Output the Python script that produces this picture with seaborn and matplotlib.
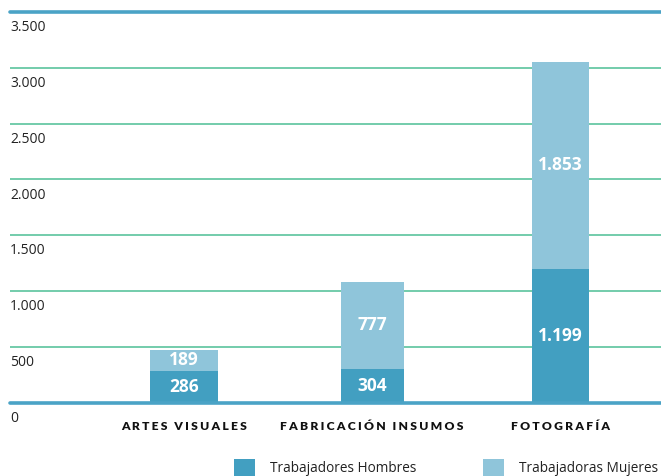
import matplotlib
matplotlib.use("Agg")
import matplotlib.pyplot as plt
import seaborn as sns
import pandas as pd
from matplotlib.patches import Patch

categorias = ["ARTES VISUALES", "FABRICACIÓN INSUMOS", "FOTOGRAFÍA"]
hombres = [286, 304, 1199]
mujeres = [189, 777, 1853]
etiquetas_h = ["286", "304", "1.199"]
etiquetas_m = ["189", "777", "1.853"]
yticks = [0, 500, 1000, 1500, 2000, 2500, 3000, 3500]
ytick_labels = ["0", "500", "1.000", "1.500", "2.000", "2.500", "3.000", "3.500"]
series = ["Trabajadores Hombres", "Trabajadoras Mujeres"]

c_h = "#429FC1"
c_m = "#8FC5DA"
grid_c = "#4DBF94"
line_c = "#4AA3C6"

sns.set_theme(style="white")
plt.rcParams["font.family"] = ["Open Sans", "DejaVu Sans"]

df = pd.DataFrame({
    "categoria": categorias,
    "hombres": hombres,
    "total": [h + m for h, m in zip(hombres, mujeres)],
})

fig = plt.figure(figsize=(6.61, 4.76), dpi=100)
ax = fig.add_axes([10 / 661, 73.5 / 476, 651 / 661, 390.5 / 476])

sns.barplot(data=df, x="categoria", y="total", color=c_m, ax=ax,
            saturation=1, width=0.33, zorder=3)
sns.barplot(data=df, x="categoria", y="hombres", color=c_h, ax=ax,
            saturation=1, width=0.33, zorder=3)

# individual bar widths as in the reference
widths = [0.362, 0.335, 0.303]
for i, p in enumerate(ax.patches):
    w = widths[i % 3]
    cx = p.get_x() + p.get_width() / 2
    p.set_width(w)
    p.set_x(cx - w / 2)
    p.set_edgecolor("none")

ax.set_ylim(0, 3500)
ax.set_xlim(-0.926, 2.537)

for v in yticks[1:-1]:
    ax.axhline(v, color=grid_c, lw=1.1, zorder=1)
ax.axhline(0, color=line_c, lw=2.6, zorder=4, clip_on=False)
ax.axhline(3500, color=line_c, lw=2.6, zorder=4, clip_on=False)

for s in ax.spines.values():
    s.set_visible(False)

ax.set_yticks([])
for v, lab in zip(yticks, ytick_labels):
    ax.annotate(lab, xy=(0, v), xycoords=("axes fraction", "data"),
                xytext=(0, -6), textcoords="offset points",
                ha="left", va="top", fontsize=10, color="#222222")

ax.set_xlabel("")
ax.set_ylabel("")
gap = "\u2009\u200a"
spaced = [gap.join(list(c)).replace(gap + " " + gap, gap * 3) for c in categorias]
ax.set_xticks(range(len(categorias)))
ax.set_xticklabels(spaced, fontsize=8.7, fontweight="heavy", color="#111111",
                   family=["Lato", "DejaVu Sans"])
ax.tick_params(axis="x", length=0, pad=13)

for i in range(len(categorias)):
    ax.text(i, hombres[i] / 2, etiquetas_h[i], ha="center", va="center",
            color="white", fontsize=12.5, fontweight="bold", zorder=5)
    ax.text(i, hombres[i] + mujeres[i] / 2, etiquetas_m[i], ha="center",
            va="center", color="white", fontsize=12.5, fontweight="bold", zorder=5)

handles = [Patch(facecolor=c_h, edgecolor="none"), Patch(facecolor=c_m, edgecolor="none")]
fig.legend(handles, series, loc="center left", bbox_to_anchor=(222 / 661, 8 / 476),
           ncol=2, frameon=False, fontsize=9.8, handlelength=1.55, handleheight=1.55,
           handletextpad=1.1, columnspacing=4.9, labelcolor="#222222")

fig.savefig("out.png", dpi=100)
